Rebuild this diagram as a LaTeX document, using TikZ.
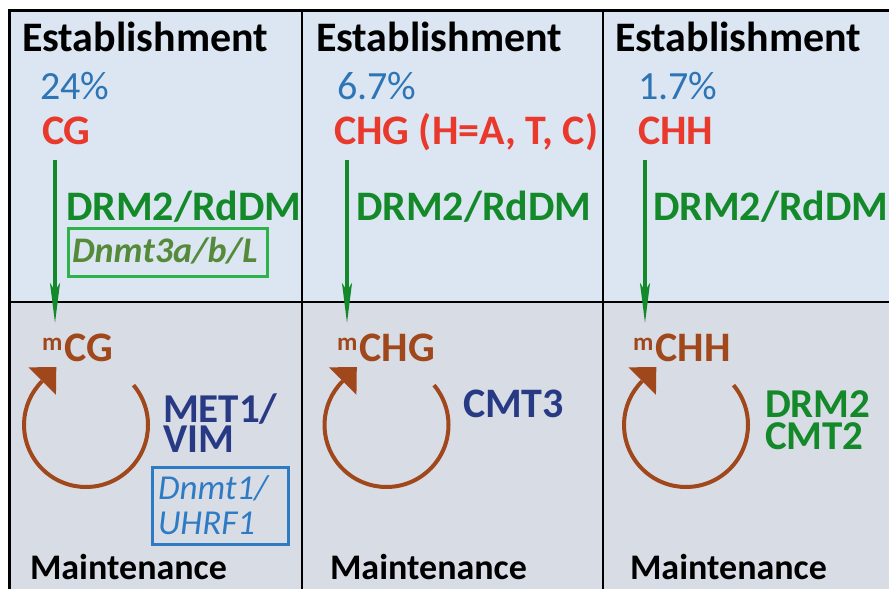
\documentclass[tikz,border=0pt]{standalone}
\usepackage{fontspec}
\setmainfont{Carlito}
\usetikzlibrary{arrows.meta,calc}
\definecolor{topbg}{HTML}{DCE6F2}
\definecolor{botbg}{HTML}{D8DCE5}
\definecolor{pctblue}{HTML}{2E75B6}
\definecolor{seqred}{HTML}{E8392C}
\definecolor{enzgreen}{HTML}{13892A}
\definecolor{olive}{HTML}{548A3A}
\definecolor{boxgreen}{HTML}{2DB34A}
\definecolor{brownc}{HTML}{A0481C}
\definecolor{navy}{HTML}{283A84}
\definecolor{boxblue}{HTML}{2E7BC4}
\tikzset{
  lbl/.style={inner sep=0pt, outer sep=0pt, anchor=base west},
  big/.style={lbl, font=\fontsize{42}{42}\selectfont\bfseries},
  pct/.style={lbl, text=pctblue, font=\fontsize{40}{40}\selectfont},
  seq/.style={big, text=seqred},
  enz/.style={big, text=enzgreen},
  meth/.style={big, text=brownc},
  stack/.style={lbl, font=\fontsize{41}{41}\selectfont\bfseries, text height=26pt, text depth=0pt},
  maint/.style={lbl, font=\fontsize{36}{36}\selectfont\bfseries},
  garrow/.style={draw=enzgreen, line width=3.5pt, -{Stealth[length=40pt,width=10pt,inset=8pt]}},
  cyc/.style={draw=brownc, line width=4pt},
  divider/.style={draw=black, line width=2pt},
}
\newcommand\mysup[1]{\raisebox{11pt}{\fontsize{25}{25}\selectfont #1}\hspace{2pt}}
\newcommand\cyclearrow[1]{%
  \draw[cyc] ($(#1)+(40:62)$) arc[start angle=40, end angle=-225, radius=62];
  \fill[brownc] ($(#1)+(135:62)+(135:19.5)$) -- ($(#1)+(135:62)+(45:20)$) -- ($(#1)+(135:62)+(-45:19.5)$) -- cycle;}
\begin{document}
\begin{tikzpicture}[x=1pt,y=1pt]
\useasboundingbox (0,0) rectangle (889,589);
\clip (0,0) rectangle (889,589);
% backgrounds
\fill[topbg] (9,287) rectangle (900,578);
\fill[botbg] (9,-20) rectangle (900,287);
\draw[divider] (9,287) -- (900,287);
\draw[divider] (302,578) -- (302,-20);
\draw[divider] (603,578) -- (603,-20);
\draw[black, line width=3pt] (9,-20) rectangle (900,578);

% column 1
\node[big] (est1) at (22,537) {Establishment};
\node[pct] (p1) at (40,489) {24\%};
\node[seq] (s1) at (42,444) {CG};
\node[enz] (e1) at (66,368) {DRM2/RdDM};
\node[draw=boxgreen, line width=3pt, minimum width=199pt, minimum height=48pt, inner sep=0pt] (dn3box) at (167.5,336) {};
\node[lbl, text=olive, font=\fontsize{36}{36}\selectfont\bfseries\itshape] (dn3) at (72,326) {Dnmt3a/b/L};
\node[meth] (m1) at (42,227) {\mysup{m}CG};
\node[stack, text=navy] (met) at (163,166) {MET1/};
\node[stack, text=navy] (vim) at (163,136) {VIM};
\node[draw=boxblue, line width=3pt, minimum width=136pt, minimum height=77pt, inner sep=0pt] (dn1box) at (220,82.5) {};
\node[lbl, text=boxblue, font=\fontsize{35}{35}\selectfont\itshape] (dn1) at (158,89) {Dnmt1/};
\node[lbl, text=boxblue, font=\fontsize{35}{35}\selectfont\itshape] (uh1) at (158,54) {UHRF1};
\node[maint] (mt1) at (30,9) {Maintenance};
\coordinate (a1s) at (55,429);
\coordinate (a1e) at (55,266);
\draw[garrow] (a1s) -- (a1e);
\coordinate (c1) at (86,164);
\cyclearrow{c1}

% column 2
\node[big] (est2) at (316,537) {Establishment};
\node[pct] (p2) at (337,489) {6.7\%};
\node[seq] (s2) at (334,444) {CHG (H=A, T, C)};
\node[enz] (e2) at (356,368) {DRM2/RdDM};
\node[meth] (m2) at (337,227) {\mysup{m}CHG};
\node[big, text=navy] (cmt3) at (463,171) {CMT3};
\node[maint] (mt2) at (330,9) {Maintenance};
\coordinate (a2s) at (347,429);
\coordinate (a2e) at (347,266);
\draw[garrow] (a2s) -- (a2e);
\coordinate (c2) at (386.5,164);
\cyclearrow{c2}

% column 3
\node[big] (est3) at (615,537) {Establishment};
\node[pct] (p3) at (638,489) {1.7\%};
\node[seq] (s3) at (638,444) {CHH};
\node[enz] (e3) at (653,368) {DRM2/RdDM};
\node[meth] (m3) at (633,227) {\mysup{m}CHH};
\node[stack, text=enzgreen] (drm) at (765,171) {DRM2};
\node[stack, text=enzgreen] (cmt2) at (765,139) {CMT2};
\node[maint] (mt3) at (630,9) {Maintenance};
\coordinate (a3s) at (645,429);
\coordinate (a3e) at (645,266);
\draw[garrow] (a3s) -- (a3e);
\coordinate (c3) at (686,164);
\cyclearrow{c3}
\end{tikzpicture}
\end{document}
